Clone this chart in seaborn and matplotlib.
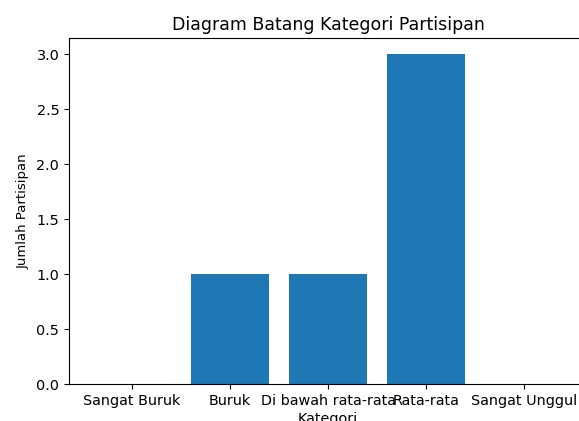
import pandas as pd
from matplotlib import pyplot as plt
import seaborn as sns

kategori = ['Sangat Buruk', 'Buruk', 'Di bawah rata-rata', 'Rata-rata', 'Sangat Unggul']
jumlah = [0, 1, 1, 3, 0]

data = pd.DataFrame({'Kategori': kategori, 'Jumlah': jumlah})

plt.rcParams['font.size'] = 10.4

fig = plt.figure(figsize=(5.79, 4.21), dpi=100)
ax = fig.add_axes([69 / 579, 37 / 421, 518 / 579, 346 / 421])
sns.barplot(x='Kategori', y='Jumlah', data=data, color='#1f77b4',
            saturation=1, width=0.8, ax=ax)
ax.set_xlim(-0.64, 4.64)
ax.set_ylim(0, 3.15)
ax.set_title('Diagram Batang Kategori Partisipan', fontsize=12.5)
ax.set_xlabel('Kategori', labelpad=3)
ax.set_ylabel('Jumlah Partisipan', fontsize=9.5, labelpad=5)
fig.savefig('out.png', dpi=100)
